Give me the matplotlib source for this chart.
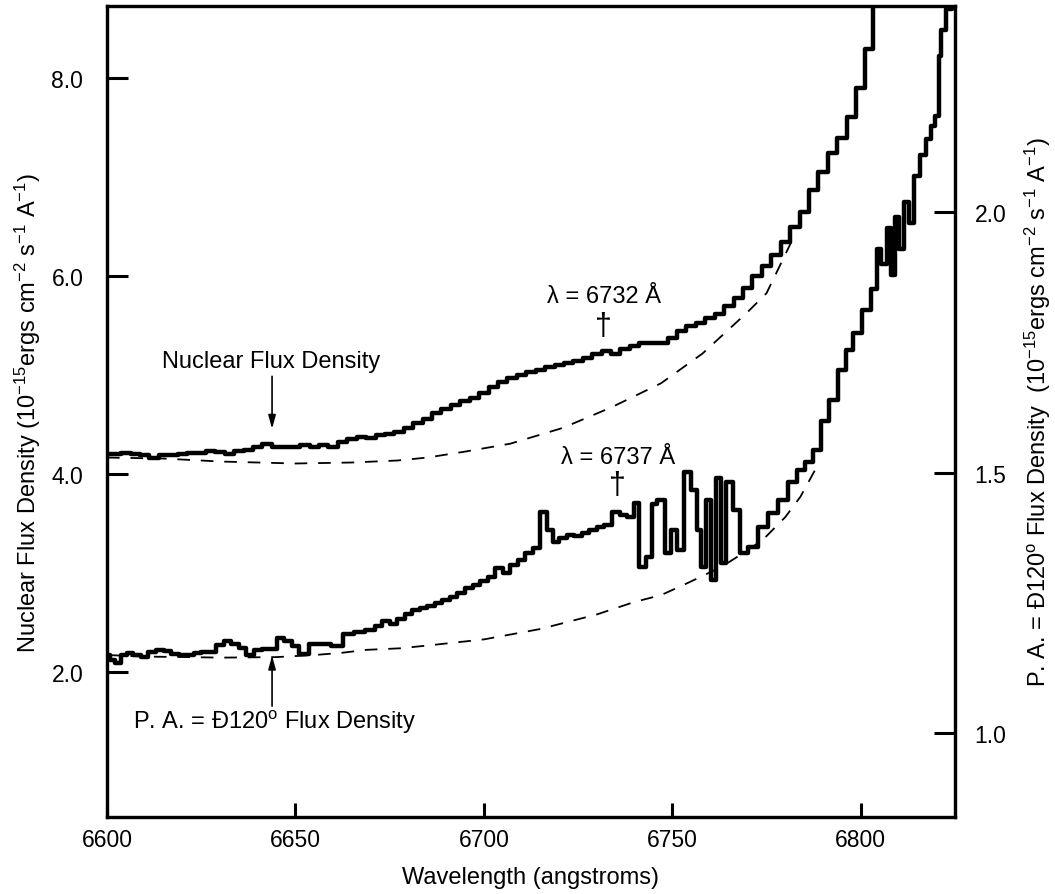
import matplotlib
matplotlib.use("Agg")
import matplotlib.pyplot as plt

plt.rcParams['font.family'] = ['Liberation Sans', 'DejaVu Sans']
plt.rcParams['mathtext.fontset'] = 'custom'
plt.rcParams['mathtext.rm'] = 'Liberation Sans'
plt.rcParams['mathtext.default'] = 'regular'

# Nuclear spectrum (left axis, 1e-15 ergs cm^-2 s^-1 A^-1)
nuc_wl = [6600, 6602.5, 6605, 6607.5, 6610, 6612.5, 6615, 6617.5, 6620, 6622.5,
          6625, 6627.5, 6630, 6632.5, 6635, 6637.5, 6640, 6642.5, 6645, 6647.5,
          6650, 6652.5, 6655, 6657.5, 6660, 6662.5, 6665, 6667.5, 6670, 6672.5,
          6675, 6677.5, 6680, 6682.5, 6685, 6687.5, 6690, 6692.5, 6695, 6697.5,
          6700, 6702.5, 6705, 6707.5, 6710, 6712.5, 6715, 6717.5, 6720, 6722.5,
          6725, 6727.5, 6730, 6732.5, 6735, 6737.5, 6740, 6742.5, 6745, 6747.5,
          6750, 6752.5, 6755, 6757.5, 6760, 6762.5, 6765, 6767.5, 6770, 6772.5,
          6775, 6777.5, 6780, 6782.5, 6785, 6787.5, 6790, 6792.5, 6795, 6797.5,
          6800, 6802.5, 6804, 6805.5]
nuc_flux = [4.21, 4.21, 4.22, 4.21, 4.20, 4.17, 4.20, 4.20, 4.21, 4.22,
            4.22, 4.24, 4.23, 4.21, 4.24, 4.25, 4.28, 4.31, 4.28, 4.28,
            4.28, 4.30, 4.28, 4.30, 4.28, 4.33, 4.36, 4.38, 4.37, 4.40,
            4.41, 4.43, 4.47, 4.52, 4.56, 4.62, 4.66, 4.70, 4.74, 4.77,
            4.82, 4.88, 4.93, 4.97, 5.00, 5.03, 5.05, 5.08, 5.10, 5.12,
            5.15, 5.18, 5.22, 5.25, 5.22, 5.27, 5.30, 5.33, 5.33, 5.33,
            5.38, 5.45, 5.50, 5.53, 5.58, 5.62, 5.70, 5.78, 5.88, 6.00,
            6.10, 6.22, 6.35, 6.50, 6.65, 6.87, 7.05, 7.25, 7.40, 7.61,
            7.90, 8.30, 8.75, 9.20]

# continuum fit under the nuclear spectrum
nuc_cont_wl = [6600, 6615, 6630, 6650, 6665, 6677, 6685, 6695, 6707, 6721,
               6734, 6747, 6758, 6770, 6775, 6782]
nuc_cont = [4.17, 4.16, 4.13, 4.11, 4.12, 4.14, 4.17, 4.23, 4.31, 4.47,
            4.68, 4.92, 5.22, 5.64, 5.83, 6.38]

# P.A. = -120 deg spectrum (right axis)
pa_wl = [6600, 6601.5, 6603, 6604.5, 6606, 6608, 6610, 6612, 6614, 6616,
         6618, 6620, 6622, 6624, 6626, 6628, 6630, 6632, 6634, 6636,
         6638, 6640, 6642, 6644, 6646, 6648, 6650, 6652, 6655, 6658,
         6661, 6664, 6667, 6670, 6672, 6674, 6676, 6678, 6680, 6682,
         6684, 6686, 6688, 6690, 6692, 6694, 6696, 6698, 6700, 6702,
         6704, 6706, 6708, 6710, 6712, 6714, 6716, 6717.5, 6719, 6721,
         6723, 6725, 6727, 6729, 6731, 6733, 6735, 6737, 6739, 6740.5,
         6742, 6744, 6745, 6747, 6749, 6750.5, 6752, 6754, 6756, 6757.3,
         6758.1, 6759.9, 6760.7, 6762.6, 6763.4, 6765.3, 6767.1, 6768.7, 6771.4, 6774,
         6776.7, 6779.3, 6782, 6784, 6786.5, 6788.3, 6790.5, 6792.6, 6795.2, 6797,
         6798.9, 6801.6, 6803.7, 6805, 6806, 6807.7, 6808.5, 6809.5, 6811, 6812.2,
         6813.5, 6814.9, 6816.4, 6818, 6819.1, 6820.4, 6821, 6821.8, 6823.6, 6825]
pa_flux = [1.150, 1.140, 1.135, 1.150, 1.154, 1.150, 1.146, 1.155, 1.160, 1.158,
           1.152, 1.150, 1.150, 1.153, 1.156, 1.156, 1.170, 1.176, 1.172, 1.163,
           1.150, 1.160, 1.162, 1.162, 1.183, 1.176, 1.168, 1.152, 1.172, 1.172,
           1.168, 1.190, 1.195, 1.198, 1.205, 1.215, 1.210, 1.220, 1.228, 1.237,
           1.240, 1.244, 1.250, 1.256, 1.262, 1.270, 1.278, 1.285, 1.292, 1.300,
           1.318, 1.308, 1.322, 1.332, 1.345, 1.356, 1.425, 1.390, 1.367, 1.375,
           1.380, 1.378, 1.385, 1.390, 1.395, 1.400, 1.425, 1.418, 1.415, 1.442,
           1.319, 1.338, 1.440, 1.448, 1.346, 1.390, 1.352, 1.502, 1.467, 1.390,
           1.319, 1.448, 1.294, 1.490, 1.327, 1.483, 1.429, 1.346, 1.358, 1.396,
           1.423, 1.448, 1.483, 1.506, 1.520, 1.544, 1.600, 1.640, 1.698, 1.735,
           1.769, 1.813, 1.852, 1.930, 1.900, 1.970, 1.880, 1.990, 1.930, 2.020,
           1.980, 2.070, 2.110, 2.140, 2.165, 2.185, 2.300, 2.350, 2.390, 2.450]

pa_cont_wl = [6600, 6610, 6622, 6630, 6645, 6655, 6662, 6669, 6678, 6686,
              6700, 6715, 6730, 6740, 6747, 6754, 6763, 6768, 6774, 6780,
              6784, 6789]
pa_cont = [1.150, 1.147, 1.146, 1.145, 1.146, 1.150, 1.154, 1.160, 1.163, 1.169,
           1.180, 1.200, 1.228, 1.252, 1.265, 1.288, 1.319, 1.342, 1.371, 1.415,
           1.454, 1.520]

fig = plt.figure(figsize=(10.55, 8.95), dpi=100)
ax = fig.add_axes([0.1014, 0.0860, 0.8038, 0.9062])
ax2 = ax.twinx()

ax.plot(nuc_wl, nuc_flux, drawstyle='steps-mid', color='black', lw=3.2)
ax.plot(nuc_cont_wl, nuc_cont, color='black', lw=1.3, dashes=(7, 6))
ax2.plot(pa_wl, pa_flux, drawstyle='steps-mid', color='black', lw=3.2)
ax2.plot(pa_cont_wl, pa_cont, color='black', lw=1.3, dashes=(7, 6))

ax.set_xlim(6600, 6825)
ax.set_ylim(0.54, 8.73)
ax2.set_ylim(0.839, 2.396)
ax.set_xticks([6600, 6650, 6700, 6750, 6800])
ax.set_yticks([2, 4, 6, 8])
ax.set_yticklabels(['2.0', '4.0', '6.0', '8.0'])
ax2.set_yticks([1.0, 1.5, 2.0])
ax2.set_yticklabels(['1.0', '1.5', '2.0'])

for a in (ax, ax2):
    for s in a.spines.values():
        s.set_linewidth(2.3)
ax.tick_params(axis='y', direction='in', length=15, width=2.2, pad=17, labelsize=16.5)
ax.tick_params(axis='x', direction='in', length=10, width=2.2, pad=8, labelsize=16.5)
ax2.tick_params(axis='y', direction='in', length=15, width=2.2, pad=14, labelsize=16.5)

ax.set_xlabel('Wavelength (angstroms)', fontsize=17)
ax.xaxis.set_label_coords(0.5, -0.0735)
ax.xaxis.label.set_va('center')
ax.set_ylabel('Nuclear Flux Density (10$^{-15}$ergs cm$^{-2}$ s$^{-1}$ A$^{-1}$)', fontsize=17)
ax.yaxis.set_label_coords(-0.093, 0.5)
ax.yaxis.label.set_va('center')
ax2.set_ylabel('P. A. = \u0110120$^{o}$ Flux Density  (10$^{-15}$ergs cm$^{-2}$ s$^{-1}$ A$^{-1}$)',
               fontsize=17)
ax2.yaxis.set_label_coords(1.098, 0.5)
ax2.yaxis.label.set_va('center')

arrow = dict(arrowstyle='-|>,head_length=0.8,head_width=0.22', lw=1.2, color='black',
             shrinkA=0, shrinkB=0)
ax.annotate('', xy=(6643.8, 4.46), xytext=(6643.8, 4.99), arrowprops=arrow)
ax.text(6643.6, 5.14, 'Nuclear Flux Density', fontsize=17, ha='center', va='center')
ax.annotate('', xy=(6643.8, 2.17), xytext=(6643.8, 1.66), arrowprops=arrow)
ax.text(6606.9, 1.51, 'P. A. = \u0110120$^{o}$ Flux Density', fontsize=17, ha='left', va='center')

ax.text(6731.8, 5.74, '\u03bb = 6732 \u00c5', fontsize=17, ha='center', va='baseline')
ax.text(6731.6, 5.50, '\u2020', fontsize=22, ha='center', va='center')
ax.text(6735.5, 4.11, '\u03bb = 6737 \u00c5', fontsize=17, ha='center', va='baseline')
ax.text(6735.5, 3.89, '\u2020', fontsize=22, ha='center', va='center')

fig.savefig('out.png', dpi=100)
